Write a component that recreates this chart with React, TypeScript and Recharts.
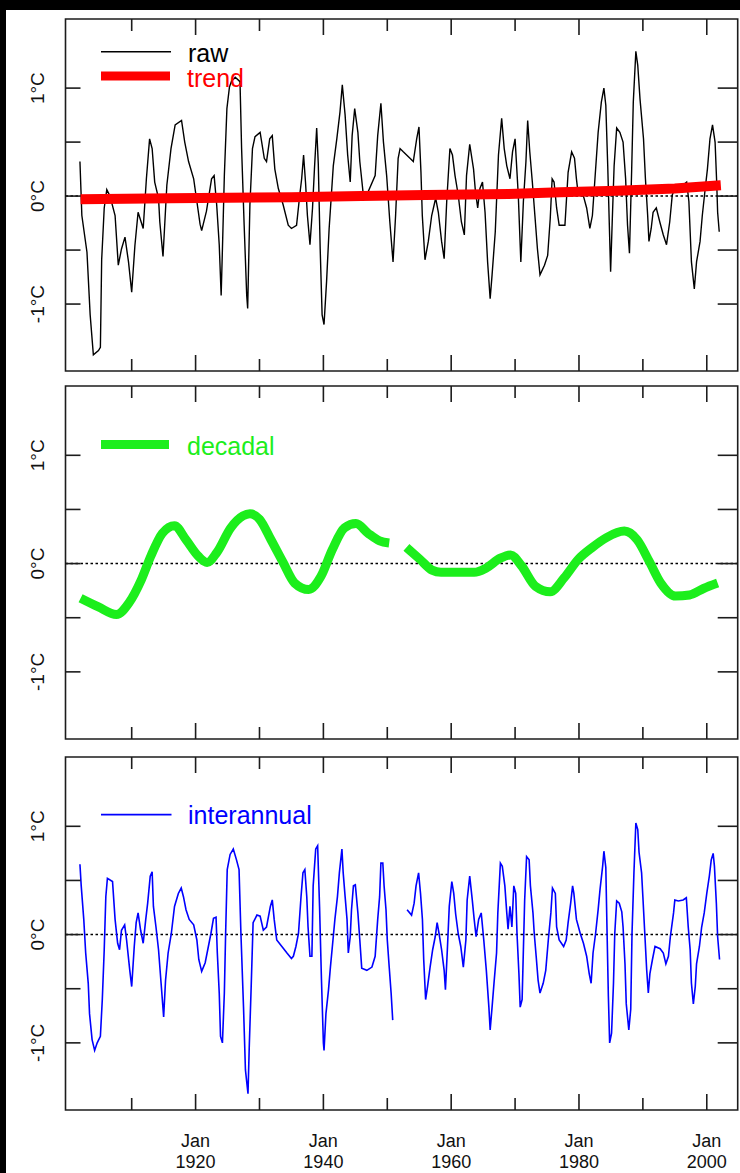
import { LineChart, Line, XAxis, YAxis, ReferenceLine, ReferenceArea } from 'recharts'

// raw monthly-smoothed anomaly
const rawYears = [
  1901.9, 1902.2, 1903.0, 1903.5, 1904.0, 1904.8, 1905.1, 1905.3, 1905.7, 1906.1, 1906.6, 1907.4, 1907.9, 1908.4,
  1908.95, 1909.5, 1910.0, 1910.5, 1911.0, 1911.8, 1912.3, 1912.8, 1913.2, 1913.6, 1914.2, 1914.4, 1914.9, 1915.5,
  1916.15, 1916.8, 1917.8, 1918.3, 1918.9, 1919.7, 1920.2, 1920.7, 1920.95, 1921.7, 1922.5, 1922.9, 1923.3, 1923.7,
  1924.0, 1924.2, 1924.5, 1924.9, 1925.3, 1925.6, 1926.2, 1926.95, 1927.2, 1927.6, 1928.0, 1928.15, 1928.5, 1928.9,
  1929.3, 1930.1, 1930.75, 1931.1, 1931.6, 1932.0, 1932.4, 1932.95, 1933.7, 1934.5, 1935.0, 1935.8, 1936.3, 1936.6,
  1936.9, 1937.2, 1937.5, 1937.9, 1938.3, 1938.6, 1938.95, 1939.2, 1939.5, 1939.8, 1940.1, 1940.5, 1940.9, 1941.55,
  1942.1, 1942.6, 1942.96, 1943.4, 1943.8, 1944.2, 1944.5, 1944.9, 1945.4, 1945.7, 1946.2, 1947.0, 1948.1, 1948.5,
  1949.0, 1949.4, 1949.9, 1950.4, 1950.9, 1951.3, 1951.7, 1952.0, 1952.5, 1953.55, 1954.07, 1954.6, 1954.96, 1955.27,
  1955.48, 1955.9, 1956.42, 1956.95, 1957.57, 1957.99, 1958.5, 1958.9, 1959.3, 1959.8, 1960.2, 1960.6, 1961.1, 1961.6,
  1962.06, 1962.4, 1962.9, 1963.5, 1963.8, 1964.15, 1964.5, 1964.9, 1965.3, 1965.7, 1966.1, 1966.4, 1966.9, 1967.4,
  1967.9, 1968.3, 1968.7, 1969.2, 1969.6, 1970.0, 1970.5, 1970.9, 1971.3, 1971.7, 1971.97, 1972.3, 1972.7, 1973.1,
  1973.5, 1973.9, 1974.6, 1975.1, 1975.5, 1975.8, 1976.1, 1976.5, 1976.9, 1977.8, 1978.3, 1978.85, 1979.3, 1979.6,
  1979.9, 1980.7, 1981.2, 1981.7, 1982.1, 1982.5, 1983.0, 1983.5, 1983.9, 1984.2, 1984.5, 1984.75, 1984.95, 1985.2,
  1985.5, 1985.9, 1986.4, 1986.9, 1987.3, 1987.6, 1987.9, 1988.25, 1988.5, 1988.9, 1989.2, 1989.55, 1990.1, 1990.4,
  1990.75, 1990.95, 1991.3, 1991.6, 1992.1, 1992.65, 1993.2, 1993.7, 1994.2, 1994.6, 1995.0, 1995.8, 1996.85, 1997.2,
  1997.6, 1998.05, 1998.4, 1998.95, 1999.3, 1999.7, 2000.1, 2000.5, 2000.9, 2001.3, 2001.55, 2001.7, 2001.95,
]
const rawTemps = [
  0.32, -0.18, -0.52, -1.1, -1.47, -1.43, -1.4, -0.59, -0.11, 0.06, 0.0, -0.18, -0.64, -0.49,
  -0.38, -0.61, -0.89, -0.46, -0.15, -0.3, 0.16, 0.53, 0.44, 0.13, -0.02, -0.24, -0.56, 0.1,
  0.44, 0.66, 0.7, 0.5, 0.32, 0.16, -0.05, -0.26, -0.32, -0.14, 0.16, 0.19, -0.08, -0.45,
  -0.92, -0.49, 0.19, 0.81, 1.01, 1.06, 1.1, 1.06, 0.44, -0.27, -0.92, -1.04, -0.08, 0.44,
  0.55, 0.59, 0.35, 0.32, 0.53, 0.56, 0.25, 0.07, -0.08, -0.27, -0.3, -0.27, 0.01, 0.16,
  0.38, 0.13, -0.18, -0.45, -0.11, 0.25, 0.63, 0.3, -0.49, -1.1, -1.19, -0.79, -0.3, 0.28,
  0.53, 0.78, 1.03, 0.75, 0.38, 0.13, 0.56, 0.81, 0.59, 0.32, 0.04, 0.04, 0.19, 0.56,
  0.86, 0.5, 0.19, -0.24, -0.61, -0.18, 0.35, 0.44, 0.41, 0.35, 0.32, 0.53, 0.64, 0.22,
  -0.18, -0.59, -0.42, -0.18, -0.02, -0.15, -0.42, -0.58, -0.05, 0.44, 0.38, 0.19, 0.01, -0.24,
  -0.36, 0.19, 0.48, 0.25, 0.04, -0.11, 0.07, 0.13, -0.15, -0.61, -0.95, -0.73, -0.33, 0.38,
  0.72, 0.44, 0.28, 0.16, 0.41, 0.53, 0.01, -0.61, -0.05, 0.32, 0.7, 0.41, 0.13, -0.18,
  -0.49, -0.73, -0.64, -0.55, -0.21, 0.16, 0.13, -0.11, -0.27, -0.27, 0.22, 0.41, 0.35, 0.16,
  0.01, 0.0, -0.11, -0.3, -0.18, 0.16, 0.59, 0.87, 1.0, 0.84, 0.28, -0.27, -0.7, -0.24,
  0.28, 0.63, 0.59, 0.5, 0.16, -0.27, -0.53, 0.25, 0.87, 1.34, 1.21, 0.9, 0.53, 0.16,
  -0.18, -0.42, -0.3, -0.15, -0.11, -0.24, -0.36, -0.45, -0.24, 0.01, 0.07, 0.08, 0.13, -0.05,
  -0.61, -0.86, -0.61, -0.42, -0.18, 0.04, 0.25, 0.53, 0.66, 0.5, 0.13, -0.15, -0.33,
]

const trendYears = [1902, 1916, 1935, 1946, 1956, 1969, 1977, 1986, 1995, 2002.2]
const trendTemps = [-0.03, -0.02, -0.01, 0.0, 0.01, 0.02, 0.035, 0.05, 0.07, 0.1]

const decadalYears = [
  1902.0, 1904.8, 1907.6, 1909.6, 1911.5, 1913.0, 1914.8, 1916.7, 1918.5, 1920.4, 1921.8, 1923.3, 1925.5, 1927.4,
  1928.5, 1930.0, 1931.8, 1933.7, 1935.5, 1937.7, 1939.6, 1941.4, 1943.3, 1945.1, 1947.0, 1948.8, 1950.3, 1951.6,
  1953.0, 1955.1, 1957.0, 1958.4, 1961.0, 1963.6, 1965.5, 1967.7, 1969.3, 1971.0, 1973.2, 1975.5, 1977.7, 1979.9,
  1982.1, 1984.3, 1987.1, 1989.1, 1991.0, 1992.8, 1995.1, 1997.3, 1999.5, 2001.7,
]
const decadalTemps = [
  -0.32, -0.4, -0.47, -0.36, -0.15, 0.07, 0.28, 0.35, 0.22, 0.07, 0.01, 0.1, 0.33, 0.44,
  0.46, 0.41, 0.22, 0.01, -0.18, -0.24, -0.12, 0.13, 0.33, 0.37, 0.28, 0.21, 0.19, null,
  0.15, 0.04, -0.06, -0.08, -0.08, -0.08, -0.04, 0.05, 0.08, -0.02, -0.21, -0.26, -0.13, 0.04,
  0.15, 0.24, 0.3, 0.22, 0.02, -0.18, -0.3, -0.29, -0.23, -0.18,
]

const interYears = [
  1901.9, 1902.1, 1902.5, 1902.8, 1903.2, 1903.4, 1903.8, 1904.2, 1904.6, 1905.1, 1905.4, 1905.7, 1905.95, 1906.2,
  1907.0, 1907.4, 1907.8, 1908.1, 1908.4, 1908.9, 1909.2, 1909.7, 1910.0, 1910.4, 1910.7, 1911.0, 1911.4, 1911.8,
  1912.2, 1912.5, 1912.9, 1913.2, 1913.4, 1913.8, 1914.2, 1914.6, 1915.0, 1915.3, 1915.7, 1916.2, 1916.7, 1917.3,
  1917.75, 1918.1, 1918.5, 1919.0, 1919.7, 1920.2, 1920.5, 1920.95, 1921.5, 1922.0, 1922.4, 1922.8, 1923.2, 1923.4,
  1923.7, 1923.9, 1924.2, 1924.5, 1924.7, 1924.95, 1925.4, 1925.9, 1926.4, 1926.8, 1927.1, 1927.5, 1927.8, 1928.2,
  1928.4, 1928.7, 1929.0, 1929.6, 1930.1, 1930.6, 1931.1, 1931.7, 1932.0, 1932.3, 1932.7, 1933.5, 1934.3, 1935.0,
  1935.3, 1935.7, 1936.1, 1936.5, 1936.8, 1937.1, 1937.4, 1937.6, 1937.9, 1938.2, 1938.4, 1938.8, 1939.1, 1939.4,
  1939.7, 1940.0, 1940.1, 1940.4, 1940.8, 1941.1, 1941.5, 1941.8, 1942.2, 1942.5, 1942.9, 1943.1, 1943.4, 1943.7,
  1943.9, 1944.2, 1944.4, 1944.7, 1945.0, 1945.4, 1945.7, 1946.0, 1946.8, 1947.6, 1948.1, 1948.5, 1948.8, 1949.0,
  1949.3, 1949.5, 1949.8, 1950.0, 1950.3, 1950.6, 1950.85, 1952.0, 1953.1, 1953.8, 1954.2, 1954.5, 1954.9, 1955.2,
  1955.5, 1955.7, 1956.0, 1956.3, 1956.7, 1957.1, 1957.5, 1957.8, 1958.1, 1958.5, 1958.9, 1959.1, 1959.4, 1959.7,
  1960.1, 1960.4, 1960.7, 1961.1, 1961.5, 1961.9, 1962.3, 1962.5, 1962.9, 1963.3, 1963.6, 1963.9, 1964.3, 1964.7,
  1965.1, 1965.5, 1965.9, 1966.1, 1966.4, 1966.7, 1967.1, 1967.3, 1967.7, 1968.0, 1968.4, 1968.7, 1968.9, 1969.2,
  1969.5, 1969.8, 1970.1, 1970.3, 1970.6, 1970.8, 1971.1, 1971.3, 1971.5, 1971.8, 1972.2, 1972.4, 1972.8, 1973.0,
  1973.3, 1973.6, 1973.9, 1974.4, 1974.8, 1975.2, 1975.6, 1975.85, 1976.3, 1976.5, 1976.9, 1977.6, 1978.0, 1978.3,
  1978.7, 1979.0, 1979.2, 1979.6, 1980.2, 1980.7, 1981.2, 1981.6, 1981.9, 1982.2, 1982.6, 1983.0, 1983.3, 1983.7,
  1983.9, 1984.2, 1984.4, 1984.6, 1984.8, 1985.1, 1985.4, 1985.6, 1985.9, 1986.3, 1986.7, 1986.9, 1987.2, 1987.4,
  1987.8, 1988.1, 1988.3, 1988.6, 1988.9, 1989.2, 1989.4, 1989.8, 1990.0, 1990.3, 1990.6, 1990.85, 1991.1, 1991.5,
  1991.9, 1992.7, 1993.2, 1993.6, 1994.0, 1994.3, 1994.8, 1995.0, 1995.55, 1996.3, 1996.8, 1997.1, 1997.4, 1997.6,
  1997.9, 1998.2, 1998.4, 1998.85, 1999.2, 1999.6, 2000.0, 2000.4, 2000.7, 2001.0, 2001.2, 2001.5, 2001.7, 2002.0,
]
const interTemps = [
  0.65, 0.45, 0.14, -0.17, -0.45, -0.73, -0.97, -1.07, -1.0, -0.94, -0.6, -0.14, 0.35, 0.52,
  0.49, 0.14, -0.08, -0.14, 0.04, 0.09, -0.05, -0.33, -0.48, -0.11, 0.11, 0.2, 0.04, -0.08,
  0.14, 0.29, 0.54, 0.58, 0.26, 0.07, -0.14, -0.45, -0.76, -0.42, -0.17, 0.01, 0.26, 0.38,
  0.43, 0.35, 0.23, 0.14, 0.09, -0.05, -0.23, -0.34, -0.26, -0.11, 0.01, 0.15, 0.16, -0.17,
  -0.54, -0.94, -1.0, -0.54, 0.01, 0.6, 0.74, 0.79, 0.69, 0.6, 0.0, -0.67, -1.25, -1.47,
  -1.03, -0.48, 0.11, 0.18, 0.17, 0.04, 0.07, 0.26, 0.32, 0.14, -0.05, -0.11, -0.17, -0.22,
  -0.2, -0.11, 0.01, 0.35, 0.57, 0.6, 0.35, 0.07, -0.2, -0.2, 0.45, 0.79, 0.82, 0.26,
  -0.42, -1.0, -1.07, -0.73, -0.51, -0.3, -0.05, 0.14, 0.35, 0.57, 0.79, 0.57, 0.35, 0.14,
  -0.17, -0.02, 0.23, 0.45, 0.46, 0.2, -0.05, -0.31, -0.33, -0.3, -0.2, 0.14, 0.35, 0.66,
  0.66, 0.45, 0.23, -0.05, -0.3, -0.54, -0.79, null, 0.23, 0.18, 0.29, 0.45, 0.57, 0.38,
  0.14, -0.23, -0.6, -0.48, -0.3, -0.14, -0.02, 0.11, 0.01, -0.14, -0.33, -0.51, -0.14, 0.26,
  0.49, 0.38, 0.19, 0.01, -0.11, -0.3, -0.05, 0.32, 0.54, 0.32, 0.14, -0.02, 0.14, 0.2,
  -0.05, -0.33, -0.67, -0.88, -0.67, -0.45, -0.17, 0.2, 0.66, 0.63, 0.45, 0.2, 0.05, 0.26,
  0.07, 0.45, 0.38, 0.01, -0.36, -0.67, -0.6, -0.14, 0.32, 0.72, 0.69, 0.45, 0.2, 0.01,
  -0.2, -0.42, -0.54, -0.45, -0.33, -0.05, 0.2, 0.43, 0.38, 0.07, -0.05, -0.11, -0.05, 0.11,
  0.29, 0.45, 0.38, 0.14, 0.01, -0.08, -0.2, -0.36, -0.45, -0.17, 0.01, 0.23, 0.42, 0.63,
  0.77, 0.62, 0.01, -0.57, -1.0, -0.91, -0.45, 0.01, 0.31, 0.29, 0.21, 0.07, -0.27, -0.64,
  -0.88, -0.69, 0.01, 0.57, 1.03, 0.97, 0.76, 0.57, 0.35, 0.01, -0.33, -0.54, -0.36, -0.23,
  -0.11, -0.13, -0.17, -0.27, -0.2, -0.02, 0.2, 0.32, 0.31, 0.32, 0.34, 0.07, -0.14, -0.45,
  -0.64, -0.48, -0.27, -0.11, 0.07, 0.2, 0.38, 0.54, 0.69, 0.75, 0.63, 0.29, -0.02, -0.23,
]

const xTicks = [1910, 1920, 1930, 1940, 1950, 1960, 1970, 1980, 1990, 2000]
const yTicks = [-1, -0.5, 0, 0.5, 1]
const yLabels: Record<string, string> = { '1': '1°C', '0': '0°C', '-1': '-1°C' }

const toRows = (years: number[], temps: (number | null)[]) => years.map((year, i) => ({ year, t: temps[i] }))
const rawData = toRows(rawYears, rawTemps)
const trendData = toRows(trendYears, trendTemps)
const decadalData = toRows(decadalYears, decadalTemps)
const interData = toRows(interYears, interTemps)

const X_DOMAIN: [number, number] = [1899.64, 2004.84]
const Y_DOMAIN: [number, number] = [-1.62, 1.64]
const W = 740
const Y_AXIS_W = 65.5
const RIGHT = 2.3
const PLOT_RIGHT = W - RIGHT
const MT = 10
const FONT = '"Liberation Sans", Arial, sans-serif'
const AXIS = '#1c1c1c'

function Panel({ top, boxH, labels, children }: { top: number; boxH: number; labels?: boolean; children: any }) {
  const xh = labels ? 63 : 8
  const bottom = MT + boxH
  return (
    <div style={{ position: 'absolute', left: 0, top }}>
      <LineChart width={W} height={MT + boxH + xh} margin={{ top: MT, right: RIGHT, bottom: 0, left: 0 }}>
        <XAxis
          dataKey="year"
          type="number"
          domain={X_DOMAIN}
          ticks={xTicks}
          interval={0}
          height={xh}
          axisLine={false}
          tickLine={false}
          allowDataOverflow
          tick={(p: any) => {
            const v = p.payload.value
            const major = v % 20 === 0
            const len = major ? 16 : 12
            return (
              <g>
                <line x1={p.x} x2={p.x} y1={bottom} y2={bottom - len} stroke={AXIS} strokeWidth={1.6} />
                <line x1={p.x} x2={p.x} y1={MT} y2={MT + len} stroke={AXIS} strokeWidth={1.6} />
                {labels && major && (
                  <text x={p.x} y={bottom + 37} textAnchor="middle" fontSize={18} fontFamily={FONT} fill="#111">Jan</text>
                )}
                {labels && major && (
                  <text x={p.x} y={bottom + 58} textAnchor="middle" fontSize={18} fontFamily={FONT} fill="#111">{v}</text>
                )}
              </g>
            )
          }}
        />
        <YAxis
          type="number"
          domain={Y_DOMAIN}
          ticks={yTicks}
          interval={0}
          width={Y_AXIS_W}
          axisLine={false}
          tickLine={false}
          allowDataOverflow
          tick={(p: any) => {
            const label = yLabels[String(p.payload.value)]
            return (
              <g>
                <line x1={Y_AXIS_W} x2={Y_AXIS_W + 15} y1={p.y} y2={p.y} stroke={AXIS} strokeWidth={1.6} />
                <line x1={PLOT_RIGHT - 20} x2={PLOT_RIGHT} y1={p.y} y2={p.y} stroke={AXIS} strokeWidth={1.6} />
                {label && (
                  <text
                    x={38}
                    y={p.y}
                    transform={`rotate(-90 38 ${p.y})`}
                    textAnchor="middle"
                    dominantBaseline="central"
                    fontSize={19}
                    fontFamily={FONT}
                    fill="#111"
                  >
                    {label}
                  </text>
                )}
              </g>
            )
          }}
        />
        <ReferenceArea
          x1={X_DOMAIN[0]}
          x2={X_DOMAIN[1]}
          y1={Y_DOMAIN[0]}
          y2={Y_DOMAIN[1]}
          fill="none"
          stroke={AXIS}
          strokeWidth={1.6}
          ifOverflow="visible"
        />
        <ReferenceLine y={0} stroke="#000" strokeWidth={1.5} strokeDasharray="2.5 2.5" />
        {children}
      </LineChart>
    </div>
  )
}

export default function App() {
  return (
    <div style={{ position: 'absolute', left: 0, top: 0, width: W, height: 1173, background: '#000', overflow: 'hidden' }}>
      <div style={{ position: 'absolute', left: 6, top: 10, right: 0, bottom: 0, background: '#fff' }} />

      <Panel top={9} boxH={352}>
        <Line data={rawData} dataKey="t" type="linear" stroke="#000" strokeWidth={1.4} dot={false} isAnimationActive={false} />
        <Line data={trendData} dataKey="t" type="linear" stroke="#ff0000" strokeWidth={10} dot={false} isAnimationActive={false} />
      </Panel>

      <Panel top={376} boxH={353}>
        <Line
          data={decadalData}
          dataKey="t"
          type="monotone"
          stroke="#1cee1c"
          strokeWidth={9}
          strokeLinejoin="round"
          dot={false}
          connectNulls={false}
          isAnimationActive={false}
        />
      </Panel>

      <Panel top={747} boxH={353} labels>
        <Line
          data={interData}
          dataKey="t"
          type="linear"
          stroke="#0000ff"
          strokeWidth={1.6}
          dot={false}
          connectNulls={false}
          isAnimationActive={false}
        />
      </Panel>

      {/* legends */}
      <svg width={W} height={1173} style={{ position: 'absolute', left: 0, top: 0, pointerEvents: 'none' }}>
        <g fontFamily={FONT} fontSize={25}>
          <line x1={101} x2={171} y1={51.7} y2={51.7} stroke="#000" strokeWidth={1.5} />
          <text x={188} y={61.5} fill="#000">raw</text>
          <line x1={101} x2={170} y1={76} y2={76} stroke="#ff0000" strokeWidth={9} />
          <text x={187} y={87} fill="#ff0000">trend</text>
          <line x1={101} x2={169} y1={444.5} y2={444.5} stroke="#1cee1c" strokeWidth={9} />
          <text x={187} y={455} fill="#1cee1c">decadal</text>
          <line x1={101} x2={171.5} y1={814.7} y2={814.7} stroke="#0000ff" strokeWidth={1.7} />
          <text x={188} y={823.5} fill="#0000ff">interannual</text>
        </g>
      </svg>
    </div>
  )
}
